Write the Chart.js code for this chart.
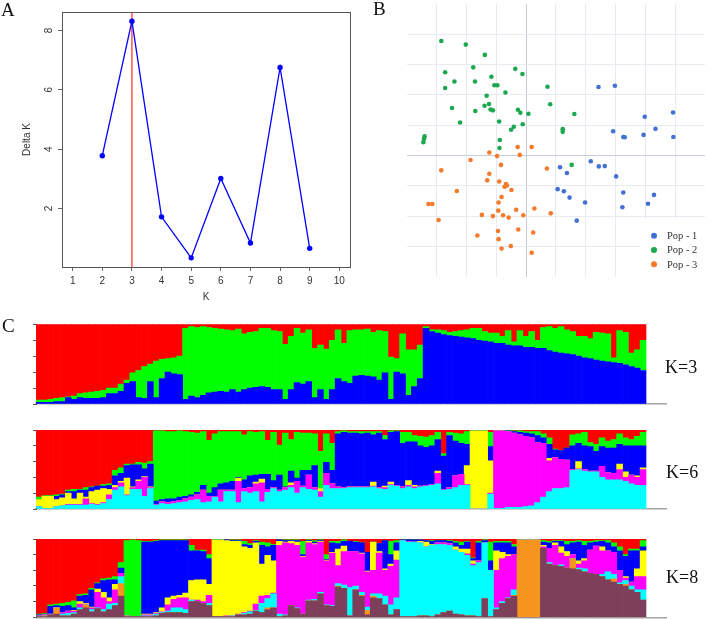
<!DOCTYPE html>
<html>
<head>
<meta charset="utf-8">
<script src="https://cdn.jsdelivr.net/npm/chart.js@4.4.1/dist/chart.umd.min.js"></script>
<style>
  body { margin: 0; background: #fff; width: 709px; height: 619px; position: relative; overflow: hidden; }
  canvas { position: absolute; }
  .lbl { position: absolute; font-family: "Liberation Serif", "Times New Roman", serif; line-height: 1; color: #111; white-space: nowrap; }
</style>
</head>
<body>
<canvas id="deltaK" width="360" height="310" style="left:0;top:0"></canvas>
<canvas id="pca" width="349" height="300" style="left:360px;top:0"></canvas>
<canvas id="k3" width="709" height="100" style="left:0;top:314px"></canvas>
<canvas id="k6" width="709" height="100" style="left:0;top:420px"></canvas>
<canvas id="k8" width="709" height="90" style="left:0;top:529px"></canvas>
<div class="lbl" style="left:1px;top:0;font-size:19px">A</div>
<div class="lbl" style="left:373px;top:-1px;font-size:19px">B</div>
<div class="lbl" style="left:2px;top:316px;font-size:19px">C</div>
<div class="lbl" style="left:665px;top:358px;font-size:18px">K=3</div>
<div class="lbl" style="left:666px;top:463px;font-size:18px">K=6</div>
<div class="lbl" style="left:666px;top:568px;font-size:18px">K=8</div>
<script>
// ---- A: Delta K by K
const kValues = [2, 3, 4, 5, 6, 7, 8, 9];
const deltaK = [3.78, 8.31, 1.72, 0.34, 3.01, 0.84, 6.75, 0.66];
const bestK = 3;

// ---- B: PCA, [PC1, PC2] per individual
const pop1 = [[2.43,2.26],[2.98,2.30],[4.93,1.42],[3.98,1.28],[2.92,0.80],[4.34,0.88],[3.26,0.61],[3.31,0.60],
  [3.94,0.68],[4.94,0.61],[2.17,-0.19],[2.44,-0.36],[2.64,-0.35],[1.14,-0.39],[1.37,-0.58],[3.02,-0.69],
  [1.06,-1.11],[1.27,-1.18],[1.46,-1.39],[1.98,-1.55],[3.26,-1.22],[4.29,-1.30],[4.09,-1.59],[3.23,-1.71],[1.70,-2.15]];
const pop2 = [[-2.84,3.78],[-2.02,3.66],[-1.38,3.32],[-2.71,2.75],[-1.77,2.91],[-0.36,2.86],[-0.12,2.69],[-2.40,2.44],
  [-1.71,2.44],[-1.16,2.60],[-1.06,2.32],[-0.96,2.32],[-2.71,2.23],[-0.69,2.08],[0.72,2.27],[-1.32,1.97],
  [-2.48,1.57],[-1.70,1.47],[-1.39,1.64],[-1.24,1.70],[-1.19,1.52],[-1.11,1.49],[-0.27,1.51],[-0.19,1.41],
  [0.08,1.38],[0.81,1.69],[1.62,1.37],[-2.21,1.09],[-0.90,1.12],[-0.41,0.95],[-0.50,0.85],[-0.11,1.03],
  [1.23,0.87],[1.23,0.78],[-3.40,0.63],[-3.42,0.55],[-3.44,0.44],[-0.88,0.51],[-0.89,0.25],[1.53,-0.31]];
const pop3 = [[-0.28,0.28],[0.19,0.28],[-1.23,0.10],[-0.97,-0.02],[-0.21,0.02],[-1.86,-0.15],[-0.84,-0.31],[-2.84,-0.49],
  [0.70,-0.43],[-1.23,-0.60],[-1.30,-0.82],[-0.90,-0.86],[-0.67,-0.94],[-0.72,-1.03],[-0.64,-0.99],[-0.49,-1.14],
  [-2.32,-1.17],[-0.82,-1.37],[-0.92,-1.55],[-3.27,-1.60],[-3.14,-1.60],[-0.93,-1.82],[-0.33,-1.79],[0.28,-1.75],
  [0.83,-1.91],[-1.48,-1.96],[-1.11,-2.00],[-0.77,-1.97],[-0.58,-2.05],[-0.09,-1.97],[-2.93,-2.13],[-0.26,-2.44],
  [-0.94,-2.49],[0.24,-2.54],[-1.63,-2.64],[-0.92,-2.76],[-0.82,-3.07],[-0.51,-2.99],[0.19,-3.21]];
const popNames = ['Pop - 1', 'Pop - 2', 'Pop - 3'];

// ---- C: membership, upper edge of each cluster per individual (bottom to top), top cluster fills to 1
const k3Colors = ['#0000ff', '#00ff00', '#ff0000'];
const k3Rows = [
  [.02,.05],[.02,.05],[.02,.06],[.03,.07],[.03,.08],[.08,.09],[.06,.10],[.08,.13],[.07,.14],[.07,.15],
  [.07,.16],[.08,.17],[.13,.20],[.13,.20],[.16,.25],[.26,.30],[.28,.39],[.08,.42],[.07,.47],[.28,.50],
  [.08,.54],[.32,.56],[.40,.57],[.38,.58],[.37,.60],[.06,.95],[.10,.97],[.08,.96],[.11,.97],[.14,.96],
  [.15,.95],[.16,.94],[.15,.93],[.18,.92],[.15,.94],[.18,.88],[.20,.90],[.21,.91],[.22,.95],[.21,.95],
  [.18,.92],[.18,.91],[.06,.75],[.18,.85],[.27,.95],[.25,.89],[.28,.93],[.08,.70],[.18,.74],[.06,.69],
  [.18,.80],[.32,.93],[.28,.76],[.26,.92],[.35,.93],[.36,.93],[.35,.94],[.34,.90],[.30,.92],[.39,.91],
  [.06,.59],[.40,.57],[.38,.88],[.11,.68],[.22,.68],[.32,.74],[.95,.97],[.91,.93],[.89,.93],[.87,.92],
  [.86,.90],[.85,.91],[.84,.92],[.83,.93],[.82,.95],[.80,.95],[.79,.91],[.78,.89],[.76,.89],[.76,.85],
  [.74,.92],[.73,.78],[.73,.92],[.71,.85],[.71,.91],[.70,.80],[.70,.96],[.67,.97],[.65,.95],[.64,.97],
  [.63,.93],[.62,.91],[.60,.85],[.58,.85],[.57,.82],[.55,.90],[.54,.89],[.53,.88],[.52,.58],[.51,.92],
  [.49,.90],[.47,.64],[.45,.68],[.42,.80]
];

const k6Colors = ['#00ffff', '#ff00ff', '#ffff00', '#0000ff', '#00ff00', '#ff0000'];
const k6Rows = [
  [.03,.03,.12,.12,.15],[.01,.01,.16,.16,.17],[.01,.01,.16,.16,.17],[.03,.03,.12,.16,.18],[.04,.04,.14,.18,.19],
  [.05,.06,.20,.22,.24],[.05,.06,.13,.22,.25],[.05,.06,.20,.24,.25],[.05,.13,.15,.24,.27],[.06,.07,.22,.27,.28],
  [.05,.06,.24,.29,.29],[.07,.08,.26,.29,.31],[.12,.18,.25,.30,.32],[.24,.27,.30,.42,.49],[.28,.33,.35,.45,.52],
  [.17,.18,.39,.55,.57],[.25,.27,.28,.56,.57],[.25,.35,.37,.56,.59],[.16,.40,.41,.51,.58],[.26,.27,.28,.57,.60],
  [.05,.06,.06,.10,.99],[.07,.09,.09,.12,.99],[.06,.08,.08,.13,.98],[.07,.09,.09,.13,.98],[.08,.11,.11,.15,.99],
  [.09,.13,.13,.16,.98],[.11,.15,.15,.18,.97],[.12,.18,.18,.21,.96],[.08,.24,.24,.30,.98],[.09,.16,.16,.20,.87],
  [.15,.16,.16,.27,.95],[.09,.24,.24,.32,.98],[.22,.24,.24,.33,.98],[.22,.24,.24,.35,.98],[.08,.35,.39,.40,.98],
  [.22,.26,.26,.37,.94],[.20,.27,.27,.42,.98],[.22,.32,.34,.43,.97],[.09,.33,.38,.44,.98],[.21,.25,.25,.44,.87],
  [.26,.27,.27,.36,.97],[.22,.24,.24,.43,.81],[.24,.27,.27,.28,.96],[.27,.30,.33,.48,.88],[.20,.35,.35,.39,.97],
  [.27,.29,.29,.49,.96],[.25,.43,.43,.49,.96],[.24,.27,.27,.55,.95],[.15,.22,.26,.26,.73],[.30,.45,.45,.59,.95],
  [.26,.32,.32,.49,.83],[.26,.28,.28,.95,.98],[.26,.27,.27,.97,.99],[.27,.28,.28,.96,.98],[.27,.28,.28,.96,.98],
  [.27,.28,.28,.95,.98],[.27,.28,.28,.96,.98],[.28,.29,.34,.94,.98],[.26,.27,.27,.96,.98],[.25,.27,.29,.88,.93],
  [.30,.31,.34,.97,.99],[.29,.30,.30,.98,.99],[.26,.28,.28,.83,.97],[.28,.30,.36,.85,.97],[.26,.28,.30,.85,.93],
  [.28,.29,.29,.80,.92],[.29,.30,.30,.78,.91],[.30,.31,.31,.80,.93],[.32,.45,.48,.88,.97],[.24,.25,.25,.67,.70],
  [.25,.27,.27,.93,.97],[.27,.42,.42,.86,.96],[.30,.44,.44,.83,.95],[.30,.31,.55,.82,.98],[0,0,.99,.99,1],
  [0,0,.99,.99,1],[0,0,.99,.99,1],[.19,.20,.61,.79,.97],[.01,.99,.99,.99,1],[.01,.99,.99,.99,1],
  [.02,.98,.98,.99,1],[.02,.96,.96,.98,.99],[.02,.94,.94,.97,.99],[.03,.92,.92,.96,.98],[.04,.90,.90,.95,.98],
  [.08,.84,.84,.93,.98],[.15,.83,.83,.90,.95],[.22,.61,.64,.82,.90],[.26,.65,.65,.75,.76],[.26,.63,.63,.74,.74],
  [.27,.62,.62,.77,.77],[.49,.50,.50,.80,.94],[.50,.51,.60,.83,.95],[.48,.50,.50,.80,.97],[.47,.48,.48,.79,.84],
  [.47,.48,.48,.73,.82],[.40,.54,.54,.79,.90],[.37,.46,.46,.77,.86],[.37,.45,.45,.77,.88],[.37,.50,.57,.82,.95],
  [.35,.40,.47,.80,.90],[.32,.43,.43,.80,.88],[.30,.40,.42,.80,.92],[.30,.50,.52,.80,.97]
];

const k8Colors = ['#7d3f5a', '#f7941e', '#00ffff', '#ff00ff', '#ffff00', '#0000ff', '#00ff00', '#ff0000'];
const k8Rows = [
  [.01,.01,.01,.02,.02,.03,.04],[.01,.02,.02,.03,.03,.04,.05],[.03,.03,.03,.04,.04,.14,.16],[.04,.12,.12,.12,.12,.15,.17],
  [.02,.02,.04,.06,.06,.14,.18],[.02,.02,.05,.08,.08,.15,.19],[.04,.04,.06,.08,.09,.12,.21],[.10,.10,.12,.17,.20,.27,.29],
  [.12,.16,.16,.17,.18,.28,.30],[.07,.07,.10,.12,.13,.35,.37],[.11,.11,.12,.32,.36,.43,.44],[.07,.07,.10,.25,.32,.47,.49],
  [.10,.10,.17,.20,.25,.48,.50],[.15,.15,.18,.35,.42,.48,.52],[.27,.43,.52,.56,.56,.63,.70],[.01,.02,.02,.02,.02,.02,.98],
  [.01,.01,.01,.01,.01,.01,.99],[.01,.01,.01,.01,.01,.01,.98],[.01,.01,.02,.03,.04,.96,.97],[.01,.01,.02,.03,.04,.96,.97],
  [.02,.02,.04,.05,.06,.97,.98],[.05,.05,.06,.07,.12,.98,.99],[.06,.06,.08,.16,.25,.98,.99],[.06,.06,.12,.23,.27,.98,.99],
  [.06,.06,.12,.25,.28,.98,.99],[.05,.05,.10,.25,.31,.98,.99],[.20,.20,.22,.22,.47,.85,.92],[.20,.20,.20,.22,.48,.85,.86],
  [.18,.18,.18,.20,.48,.84,.86],[.15,.15,.18,.28,.42,.75,.80],[.01,.01,.01,.01,.99,.99,.995],[.01,.01,.01,.01,.99,.99,.995],
  [.01,.01,.01,.02,.98,.99,.99],[.01,.01,.02,.02,.97,.98,.99],[.03,.03,.03,.04,.97,.98,.99],[.03,.03,.05,.06,.90,.93,.97],
  [.04,.04,.07,.08,.88,.92,.94],[.08,.08,.09,.17,.95,.97,.98],[.06,.06,.18,.27,.68,.92,.96],[.10,.12,.24,.28,.79,.90,.95],
  [.12,.12,.30,.31,.72,.92,.93],[.01,.01,.04,.92,.97,.99,.99],[.02,.02,.03,.95,.96,.98,.99],[.15,.15,.15,.94,.97,.98,.99],
  [.11,.11,.12,.92,.96,.98,.99],[.04,.04,.04,.77,.78,.80,.97],[.21,.21,.22,.95,.97,.98,.99],[.21,.21,.23,.93,.94,.96,.98],
  [.30,.30,.32,.96,.97,.98,.99],[.15,.15,.16,.72,.73,.74,.80],[.14,.14,.15,.82,.83,.95,.97],[.39,.40,.43,.66,.87,.94,.97],
  [.37,.37,.41,.84,.91,.97,.99],[.02,.02,.38,.84,.84,.97,.97],[.35,.35,.40,.84,.84,.96,.97],[.27,.28,.32,.81,.82,.95,.95],
  [.03,.09,.13,.58,.59,.83,.83],[.25,.27,.30,.60,.96,.96,.96],[.24,.24,.30,.82,.84,.94,.94],[.16,.16,.27,.60,.62,.98,.98],
  [.03,.03,.16,.65,.68,.80,.97],[.10,.10,.25,.73,.85,.95,.98],[.01,.01,.98,.98,.98,.99,.99],[.01,.01,.96,.97,.97,.99,.99],
  [.01,.01,.96,.96,.96,.99,.99],[.02,.02,.95,.95,.97,.99,.99],[.02,.02,.90,.90,.96,.98,.98],[.01,.01,.92,.92,.93,.97,.98],
  [.03,.03,.93,.95,.95,.98,.98],[.06,.06,.93,.95,.95,.98,.98],[.08,.08,.92,.94,.94,.97,.98],[.04,.04,.86,.86,.90,.95,.97],
  [.03,.03,.83,.83,.87,.92,.96],[.02,.02,.79,.81,.87,.96,.97],[.02,.02,.66,.68,.72,.75,.76],[.01,.01,.70,.72,.72,.95,.97],
  [.24,.24,.95,.95,.95,.98,.99],[.01,.01,.60,.60,.60,.72,.96],[.10,.10,.12,.60,.85,.95,.97],[.18,.18,.20,.75,.83,.95,.97],
  [.24,.24,.25,.78,.80,.95,.97],[.27,.28,.35,.80,.80,.90,.93],[0,.99,.99,.99,.99,.99,1],[0,.99,.99,.99,.99,.99,1],
  [0,.99,.99,.99,.99,.99,1],[0,.99,.99,.99,.99,.99,1],[.88,.88,.88,.90,.92,.96,.98],[.68,.68,.70,.88,.88,.95,.97],
  [.66,.66,.66,.92,.95,.97,.98],[.65,.65,.67,.82,.90,.97,.98],[.63,.63,.63,.78,.84,.93,.97],[.62,.75,.75,.80,.80,.95,.97],
  [.61,.61,.63,.68,.72,.96,.98],[.58,.58,.62,.72,.75,.92,.97],[.56,.56,.56,.86,.86,.95,.97],[.55,.55,.55,.91,.91,.96,.98],
  [.52,.52,.55,.85,.90,.97,.98],[.48,.48,.58,.85,.85,.95,.98],[.45,.49,.55,.83,.83,.90,.95],[.42,.42,.44,.60,.60,.85,.90],
  [.40,.42,.47,.50,.52,.78,.80],[.35,.35,.40,.45,.45,.85,.87],[.32,.32,.35,.52,.62,.85,.87],[.22,.22,.35,.52,.85,.90,.98]
];

Chart.defaults.font.family = '"Liberation Sans", Arial, sans-serif';
Chart.defaults.animation = false;
Chart.defaults.plugins.legend.display = false;
Chart.defaults.plugins.tooltip.enabled = false;

// box around the plot region (R style)
const boxPlugin = {
  id: 'box',
  afterDraw(chart) {
    const a = chart.chartArea, ctx = chart.ctx;
    ctx.save();
    ctx.strokeStyle = '#555';
    ctx.lineWidth = 1;
    ctx.strokeRect(a.left + 0.5, a.top + 0.5, a.width, a.height);
    ctx.restore();
  }
};

const yLo = 0.032, yHi = 8.618;
new Chart(document.getElementById('deltaK'), {
  type: 'scatter',
  data: {
    datasets: [
      {
        data: kValues.map((k, i) => ({ x: k, y: deltaK[i] })),
        showLine: true, borderColor: '#0000ff', backgroundColor: '#0000ff',
        borderWidth: 1.3, pointRadius: 2.7, pointBorderWidth: 0, order: 1
      },
      {
        data: [{ x: bestK, y: yLo }, { x: bestK, y: yHi }],
        showLine: true, borderColor: '#ff0000', borderWidth: 1, pointRadius: 0, order: 2
      }
    ]
  },
  options: {
    responsive: false,
    devicePixelRatio: 1,
    layout: { padding: { left: 0, right: 10, top: 8, bottom: 0 } },
    scales: {
      x: {
        type: 'linear', min: 0.64, max: 10.36,
        ticks: { stepSize: 1, includeBounds: false, color: '#333', font: { size: 10 }, padding: 4 },
        grid: { drawOnChartArea: false, tickLength: 4, color: '#666' },
        border: { display: false },
        title: { display: true, text: 'K', color: '#333', font: { size: 10 }, padding: { top: 0, bottom: 7 } },
        afterFit(s) { s.height = 43; }
      },
      y: {
        min: yLo, max: yHi,
        ticks: { stepSize: 2, includeBounds: false, color: '#333', font: { size: 10 }, padding: 6,
                 minRotation: 90, maxRotation: 90, crossAlign: 'center' },
        grid: { drawOnChartArea: false, tickLength: 4, color: '#666' },
        border: { display: false },
        title: { display: true, text: 'Delta K', color: '#333', font: { size: 10 }, padding: { top: 21, bottom: 0 } },
        afterFit(s) { s.width = 62; }
      }
    }
  },
  plugins: [boxPlugin]
});

// ---- B
const popColors = ['#4470d4', '#1ca84f', '#f47a2c'];
const gridFor = (lo, hi) => (ctx) => {
  const v = ctx.tick ? ctx.tick.value : null;
  if (v === lo || v === hi) return 'rgba(0,0,0,0)';
  return v === 0 ? '#c5cddd' : '#e7eaf1';
};
const popLegend = {
  id: 'popLegend',
  afterDraw(chart) {
    const ctx = chart.ctx, a = chart.chartArea;
    ctx.save();
    ctx.fillStyle = '#fff';
    ctx.fillRect(280, 219, a.right - 280, a.bottom - 219);
    ctx.font = '10.5px "Liberation Serif", "Times New Roman", serif';
    ctx.textBaseline = 'middle';
    chart.data.datasets.forEach((ds, i) => {
      const y = 235.7 + i * 14.3;
      ctx.fillStyle = ds.backgroundColor;
      ctx.beginPath(); ctx.arc(294, y, 3, 0, Math.PI * 2); ctx.fill();
      ctx.fillStyle = '#333';
      ctx.fillText(ds.label, 307, y + 0.5);
    });
    ctx.restore();
  }
};
new Chart(document.getElementById('pca'), {
  type: 'scatter',
  data: {
    datasets: [pop1, pop2, pop3].map((pts, i) => ({
      label: popNames[i],
      data: pts.map(p => ({ x: p[0], y: p[1] })),
      backgroundColor: popColors[i], borderColor: popColors[i],
      pointRadius: 2.3, pointBorderWidth: 0
    }))
  },
  options: {
    responsive: false,
    devicePixelRatio: 1,
    layout: { padding: { left: 46.7, right: 2.3, top: 3.3, bottom: 23.3 } },
    scales: {
      x: {
        min: -4, max: 6, ticks: { display: false, stepSize: 1 },
        grid: { color: gridFor(-4, 6), drawTicks: false }, border: { display: false },
        afterFit(s) { s.height = 0; }
      },
      y: {
        min: -4, max: 5, ticks: { display: false, stepSize: 1 },
        grid: { color: gridFor(-4, 5), drawTicks: false }, border: { display: false },
        afterFit(s) { s.width = 0; }
      }
    }
  },
  plugins: [popLegend]
});

// ---- C: structure bar plots
function stackSets(rows, colors) {
  return colors.map((c, k) => ({
    data: rows.map((r, i) => {
      const top = k < r.length ? r[k] : 1;
      const bottom = k > 0 ? r[k - 1] : 0;
      return { x: i, y: Math.max(0, top - bottom) };
    }),
    backgroundColor: c, borderWidth: 0, barPercentage: 1, categoryPercentage: 1
  }));
}

function structurePlot(id, rows, colors, padTop, padBottom) {
  new Chart(document.getElementById(id), {
    type: 'bar',
    data: { datasets: stackSets(rows, colors) },
    options: {
      responsive: false,
      devicePixelRatio: 1,
      layout: { padding: { left: 33, right: 42.3, top: padTop, bottom: padBottom } },
      scales: {
        x: {
          type: 'linear', stacked: true, offset: false, min: -0.5, max: rows.length - 0.5 + 3.53,
          ticks: { display: false }, grid: { display: false },
          border: { display: true, color: '#a3a3a3', width: 1.5 },
          afterFit(s) { s.height = 0; }
        },
        y: {
          stacked: true, min: 0, max: 1,
          ticks: { display: false, stepSize: 0.2 },
          grid: { drawOnChartArea: false, tickLength: 3, color: '#555' },
          border: { display: true, color: '#444', width: 1 },
          afterFit(s) { s.width = 3; }
        }
      }
    }
  });
}

structurePlot('k3', k3Rows, k3Colors, 10.3, 10);
structurePlot('k6', k6Rows, k6Colors, 10, 11);
structurePlot('k8', k8Rows, k8Colors, 10, 1.7);
</script>
</body>
</html>
